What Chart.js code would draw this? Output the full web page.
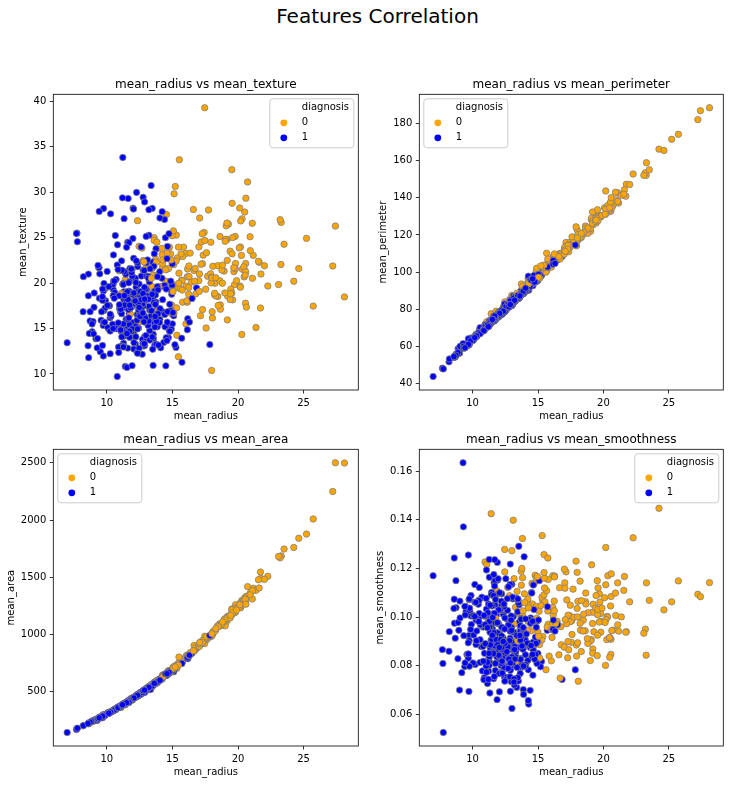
<!DOCTYPE html>
<html><head><meta charset="utf-8">
<script src="https://cdn.jsdelivr.net/npm/chart.js@4.4.0/dist/chart.umd.min.js"></script>
<style>
html,body{margin:0;padding:0;background:#fff;}
#fig{position:relative;width:730px;height:785px;overflow:hidden;background:#fff;}
#fig canvas{position:absolute;left:0;top:0;}
#suptitle{position:absolute;left:0;top:3.8px;width:755px;text-align:center;font:20px/24px "DejaVu Sans",sans-serif;color:#000;}
</style></head>
<body>
<div id="fig">
<div id="suptitle">Features Correlation</div>
<canvas id="c1" width="730" height="785"></canvas>
<canvas id="c2" width="730" height="785"></canvas>
<canvas id="c3" width="730" height="785"></canvas>
<canvas id="c4" width="730" height="785"></canvas>
</div>
<script>
const radius = [
17.99,20.57,19.69,11.42,20.29,12.45,18.25,13.71,13,12.46,
16.02,15.78,19.17,15.85,13.73,14.54,14.68,16.13,19.81,13.54,
13.08,9.504,15.34,21.16,16.65,17.14,14.58,18.61,15.3,17.57,
18.63,11.84,17.02,19.27,16.13,16.74,14.25,13.03,14.99,13.48,
13.44,10.95,19.07,13.28,13.17,18.65,8.196,13.17,12.05,13.49,
11.76,13.64,11.94,18.22,15.1,11.52,19.21,14.71,13.05,8.618,
10.17,8.598,14.25,9.173,12.68,14.78,9.465,11.31,9.029,12.78,
18.94,8.888,17.2,13.8,12.31,16.07,13.53,18.05,20.18,12.86,
11.45,13.34,25.22,19.1,12,18.46,14.48,19.02,12.36,14.64,
14.62,15.37,13.27,13.45,15.06,20.26,12.18,9.787,11.6,14.42,
13.61,6.981,12.18,9.876,10.49,13.11,11.64,12.36,22.27,11.34,
9.777,12.63,14.26,10.51,8.726,11.93,8.95,14.87,15.78,17.95,
11.41,18.66,24.25,14.5,13.37,13.85,13.61,19,15.1,19.79,
12.19,15.46,16.16,15.71,18.45,12.77,11.71,11.43,14.95,11.28,
9.738,16.11,11.43,12.9,10.75,11.9,11.8,14.95,14.44,13.74,
13,8.219,9.731,11.15,13.15,12.25,17.68,16.84,12.06,10.9,
11.75,19.19,19.59,12.34,23.27,14.97,10.8,16.78,17.47,14.97,
12.32,13.43,15.46,11.08,10.66,8.671,9.904,16.46,13.01,12.81,
27.22,21.09,15.7,11.41,15.28,10.08,18.31,11.71,11.81,12.3,
14.22,12.77,9.72,12.34,14.86,12.91,13.77,18.08,19.18,14.45,
12.23,17.54,23.29,13.81,12.47,15.12,9.876,17.01,13.11,15.27,
20.58,11.84,28.11,17.42,14.19,13.86,11.89,10.2,19.8,19.53,
13.65,13.56,10.18,15.75,13.27,14.34,10.44,15,12.62,12.83,
17.05,11.32,11.22,20.51,9.567,14.03,23.21,20.48,14.22,17.46,
13.64,12.42,11.3,13.75,19.4,10.48,13.2,12.89,10.65,11.52,
20.94,11.5,19.73,17.3,19.45,13.96,19.55,15.32,15.66,15.53,
20.31,17.35,17.29,15.61,17.19,20.73,10.6,13.59,12.87,10.71,
14.29,11.29,21.75,9.742,17.93,11.89,11.33,18.81,13.59,13.85,
19.16,11.74,19.4,16.24,12.89,12.58,11.94,12.89,11.26,11.37,
14.41,14.96,12.95,11.85,12.72,13.77,10.91,11.76,14.26,10.51,
19.53,12.46,20.09,10.49,11.46,11.6,13.2,9,13.5,13.05,
11.7,14.61,12.76,11.54,8.597,12.49,12.18,18.22,9.042,12.43,
10.25,20.16,12.86,20.34,12.2,12.67,14.11,12.03,16.27,16.26,
16.03,12.98,11.22,11.25,12.3,17.06,12.99,18.77,10.05,23.51,
14.42,9.606,11.06,19.68,11.71,10.26,12.06,14.76,11.47,11.95,
11.66,15.75,25.73,15.08,11.14,12.56,13.05,13.87,8.878,9.436,
12.54,13.3,12.76,16.5,13.4,20.44,20.2,12.21,21.71,22.01,
16.35,15.19,21.37,20.64,13.69,16.17,10.57,13.46,13.66,11.08,
11.27,11.04,12.05,12.39,13.28,14.6,12.21,13.88,11.27,19.55,
10.26,8.734,15.49,21.61,12.1,14.06,13.51,12.8,11.06,11.8,
17.91,11.93,12.96,12.94,12.34,10.94,16.14,12.85,17.99,12.27,
11.36,11.04,9.397,14.99,15.13,11.89,9.405,15.5,12.7,11.16,
11.57,14.69,11.61,13.66,9.742,10.03,10.48,10.8,11.13,12.72,
14.9,12.4,20.18,18.82,14.86,13.98,12.87,14.04,13.85,14.02,
10.97,17.27,13.78,10.57,18.03,11.99,17.75,14.8,14.53,21.1,
11.87,19.59,12,14.53,12.62,13.38,11.63,13.21,13,9.755,
17.08,27.42,14.4,11.6,13.17,13.24,13.14,9.668,17.6,11.62,
9.667,12.04,14.92,12.27,10.88,12.83,14.2,13.9,11.49,16.25,
12.16,13.9,13.47,13.7,15.73,12.45,14.64,19.44,11.68,16.69,
12.25,17.85,18.01,12.46,13.16,14.87,12.65,12.47,18.49,20.59,
15.04,13.82,12.54,23.09,9.268,9.676,12.22,11.06,16.3,15.46,
11.74,14.81,13.4,14.58,15.05,11.34,18.31,19.89,12.88,12.75,
9.295,24.63,11.26,13.71,9.847,8.571,13.46,12.34,13.94,12.07,
11.75,11.67,13.68,20.47,10.96,20.55,14.27,11.69,7.729,7.691,
11.54,14.47,14.74,13.21,13.87,13.62,10.32,10.26,9.683,10.82,
10.86,11.13,12.77,9.333,12.88,10.29,10.16,9.423,14.59,11.51,
14.05,11.2,15.22,20.92,21.56,20.13,16.6,20.6,7.76
];
const texture = [
10.38,17.77,21.25,20.38,14.34,15.7,19.98,20.83,21.82,24.04,
23.24,17.89,24.8,23.95,22.61,27.54,20.13,20.68,22.15,14.36,
15.71,12.44,14.26,23.04,21.38,16.4,21.53,20.25,25.27,15.05,
25.11,18.7,23.98,26.47,17.88,21.59,21.72,18.42,25.2,20.82,
21.58,21.35,24.81,20.28,21.81,17.6,16.84,18.66,14.63,22.3,
21.6,16.34,18.24,18.7,22.02,18.75,18.57,21.59,19.31,11.79,
14.88,20.98,22.15,13.86,23.84,23.94,21.01,19.04,17.33,16.49,
21.31,14.64,24.52,15.79,16.52,19.65,10.94,16.15,23.97,18,
20.97,15.86,24.91,26.29,15.65,18.52,21.46,24.59,21.8,15.24,
24.02,22.76,14.76,18.3,19.83,23.03,17.84,19.94,12.84,19.77,
24.98,13.43,20.52,19.4,19.29,15.56,18.33,18.54,19.67,21.26,
16.99,20.76,19.65,20.19,15.83,21.53,15.76,16.67,22.91,20.01,
10.82,17.12,20.2,10.89,16.39,17.21,24.69,18.91,16.39,25.12,
13.29,19.48,21.54,13.93,21.91,22.47,16.67,15.39,17.57,13.39,
11.97,18.05,17.31,15.92,14.97,14.65,16.58,18.77,15.18,17.91,
20.78,20.7,15.34,13.08,15.34,17.94,20.74,19.46,12.74,12.96,
20.18,15.94,18.15,22.22,22.04,19.76,9.71,18.8,24.68,16.95,
12.39,19.63,11.89,14.71,15.15,14.45,18.06,20.11,22.22,13.06,
21.87,26.57,20.31,14.92,22.41,15.11,18.58,17.19,17.39,15.9,
23.12,21.41,18.22,26.86,23.21,16.33,22.29,21.84,22.49,20.22,
19.56,19.32,26.67,23.75,18.6,16.68,17.27,20.26,22.54,12.91,
22.14,18.94,18.47,25.56,23.81,16.93,18.35,17.48,21.56,32.47,
13.16,13.9,17.53,20.25,17.02,13.47,15.46,15.51,23.97,22.33,
19.08,27.08,33.81,27.81,15.91,21.25,26.97,21.46,27.85,39.28,
15.6,15.04,18.19,23.77,23.5,19.86,17.43,14.11,25.22,14.93,
23.56,18.45,19.82,17.08,19.33,17.05,28.77,17.27,23.2,33.56,
27.06,23.06,22.13,19.38,22.07,31.12,18.95,21.84,16.21,20.39,
16.82,13.04,20.99,15.67,24.48,17.36,14.16,19.98,17.84,15.18,
26.6,14.02,18.18,18.77,15.7,18.4,20.76,13.12,19.96,18.89,
19.73,19.1,16.02,17.46,13.78,13.27,12.35,18.14,18.17,23.09,
18.9,19.89,23.86,18.61,18.16,24.49,15.82,14.4,12.71,13.84,
19.11,15.69,13.37,10.72,18.6,16.85,14.08,18.87,18.9,17,
16.18,19.66,13.32,21.51,15.21,17.3,12.88,17.93,20.71,21.88,
15.51,19.35,19.86,14.78,19.02,21,14.23,21.43,17.53,24.27,
16.54,16.84,14.96,21.68,15.45,14.71,18.9,14.74,16.03,14.96,
17.07,19.22,17.46,25.74,14.07,19.07,18.59,16.21,15.49,18.32,
18.07,21.57,18.84,18.29,16.95,21.78,26.83,18.02,17.25,21.9,
23.29,13.21,15.1,17.35,16.07,16.07,20.22,28.21,15.15,18.83,
12.96,14.93,22.72,17.48,13.72,23.29,14.09,16.16,15.5,23.21,
12.22,16.84,19.97,22.28,17.72,17.18,18.89,17.46,14.83,17.26,
21.02,10.91,18.29,16.17,14.95,18.59,14.86,21.37,20.66,17.92,
17.57,16.83,21.68,22.11,29.81,21.17,21.7,21.08,12.17,21.41,
19.04,13.98,16.02,19.13,19.12,21.28,14.98,21.98,16.62,17.67,
22.53,17.68,19.54,21.97,16.94,19.62,19.54,15.98,19.6,15.66,
17.2,25.42,15.79,18.32,16.85,24.89,28.03,17.66,19.34,20.52,
21.54,25,28.23,13.98,17.15,30.72,29.29,25.25,25.13,28.2,
27.15,26.27,26.99,18.36,18.22,20.13,20.74,18.1,23.33,18.18,
18.49,28.14,14.93,29.97,15.62,15.73,20.53,16.62,14.59,19.51,
18.03,19.24,14.06,17.64,11.28,16.41,16.85,18.82,16.17,20.2,
22.44,13.23,20.56,12.83,20.54,20.21,18.17,17.31,17.52,21.24,
16.74,24.49,16.32,19.83,12.87,13.14,20.04,17.12,15.7,23.95,
14.69,14.7,20.52,13.66,19.07,18.61,20.58,20.26,18.22,16.7,
13.9,21.6,19.83,18.68,15.68,13.1,18.75,12.27,13.17,13.44,
17.56,20.02,16.33,20.67,17.62,20.86,22.55,24.44,25.49,25.44,
14.44,24.99,25.42,28.06,20.7,23.23,16.35,16.58,19.34,24.21,
21.48,22.44,29.43,21.94,28.92,27.61,19.59,27.88,22.68,23.93,
27.15,29.37,30.62,25.09,22.39,28.25,28.08,29.33,24.54
];
const perimeter = [
122.8,132.9,130,77.58,135.1,82.57,119.6,90.2,87.5,83.97,
102.7,103.6,132.4,103.7,93.6,96.73,94.74,108.1,130,87.46,
85.63,60.34,102.5,137.2,110,116,97.41,122.1,102.4,115,
124.8,77.93,112.8,127.9,107,110.1,93.63,82.61,95.54,88.4,
86.18,71.9,128.3,87.32,85.42,123.7,51.71,85.98,78.04,86.91,
74.72,87.21,75.71,120.3,97.26,73.34,125.5,95.55,82.61,54.34,
64.55,54.66,96.42,59.2,82.69,97.4,60.11,71.8,58.79,81.37,
123.6,58.79,114.2,90.43,79.19,104.1,87.91,120.2,143.7,83.19,
73.81,86.49,171.5,129.1,76.95,121.1,94.25,122,79.78,95.77,
94.57,100.2,84.74,86.6,100.3,132.4,77.79,62.11,74.34,94.48,
88.05,43.79,77.22,63.95,67.41,87.21,75.17,79.01,152.8,72.48,
62.5,82.15,97.83,68.64,55.84,76.53,58.74,98.64,105.7,114.2,
73.34,121.4,166.2,94.28,86.1,88.44,87.76,123.4,99.58,130.4,
79.08,101.7,106.2,102,120.2,81.72,74.72,73.06,96.85,73,
61.24,105.1,73.66,83.74,68.26,78.11,78.99,97.84,93.97,88.12,
83.51,53.27,63.78,70.87,85.31,78.27,117.4,108.4,76.84,68.69,
76.1,126.3,130.7,79.85,152.1,95.5,68.77,109.3,116.1,96.22,
78.85,85.84,102.5,70.21,67.49,54.42,64.6,109.3,82.01,81.29,
182.1,142.7,101.2,73.53,98.92,63.76,118.6,74.68,75.27,78.83,
94.37,82.02,60.73,81.15,100.4,82.53,90.63,117.4,127.5,94.49,
78.54,115.1,158.9,91.56,81.09,98.78,62.92,109.7,87.02,98.17,
134.7,75.51,188.5,114.5,92.87,90.96,77.32,65.05,129.7,128,
87.88,88.59,65.12,102.6,84.55,92.51,66.62,97.45,81.35,85.26,
113.4,71.76,70.79,134.4,60.21,89.79,153.5,132.5,92.55,113.4,
87.38,78.61,73.93,88.54,129.1,66.72,84.13,84.95,68.01,73.87,
138.9,73.28,130.7,113,126.5,91.43,133.6,103.2,110.2,103.7,
132.9,111,114.4,100,111.6,135.7,69.28,87.16,82.38,69.5,
90.3,72.23,147.3,61.5,115.2,76.2,71.79,120.9,86.24,88.99,
126.2,74.24,127.2,108.8,84.08,79.83,77.87,81.89,73.72,72.17,
96.03,97.03,83.14,75.54,81.78,88.06,69.14,75,91.22,66.85,
129.5,80.43,134.7,66.86,73.59,74.23,84.07,56.36,85.69,82.71,
74.33,92.68,82.29,73.73,54.09,79.19,77.25,118.7,60.07,78.6,
66.52,131.1,82.82,135.9,78.01,81.25,90.03,76.09,106.9,107.5,
105.8,84.52,71.94,71.38,77.88,111.8,84.08,122.9,64.41,155.1,
94.15,61.64,71.49,129.9,75.03,66.2,76.66,94.87,73.02,77.23,
73.7,107.1,174.2,98,71.24,81.92,85.09,88.52,56.74,59.82,
79.42,85.24,81.87,106.6,85.48,133.8,133.7,78.31,140.9,147.2,
109,97.65,141.3,134.8,87.84,106.3,70.15,85.89,88.27,73.3,
73.16,70.67,78.75,80.64,85.79,93.97,78.78,88.37,73.38,128.9,
65.75,55.27,102.4,144.4,78.07,89.75,88.1,83.05,70.31,75.26,
124.4,76.14,84.18,83.18,78.29,70.39,104.3,82.63,117.8,78.41,
72.49,70.92,59.75,97.53,96.71,76.39,59.6,102.9,80.88,70.95,
74.2,98.22,75.46,89.46,61.93,63.19,67.49,68.79,70.47,80.98,
102.1,81.47,133.8,123.7,94.89,91.12,82.67,89.78,88.68,89.59,
71.73,112.4,88.37,66.82,117.5,77.61,117.3,95.88,94.25,138.1,
76.83,127.7,76.77,93.86,80.62,86.34,74.87,84.1,82.61,61.68,
111.2,186.9,92.25,73.88,84.28,86.87,85.98,61.06,119,76.38,
61.49,76.85,96.45,77.42,70.41,82.89,92.41,88.97,73.99,109.8,
78.29,88.73,87.32,87.76,102.8,82.85,94.21,128.1,75.49,107.1,
78.18,114.6,118.4,78.83,84.06,96.12,82.69,80.45,121.3,137.8,
98.73,92.33,81.25,152.1,61.49,64.12,79.47,71.25,104.7,103.8,
76.31,94.66,88.64,94.29,97.26,72.76,120.8,130.5,84.45,82.51,
59.96,165.5,71.3,88.73,63,54.53,87.44,78.94,90.31,77.83,
75.89,75.21,87.76,134.7,70.79,137.8,93.77,76.37,47.98,48.34,
74.65,95.81,94.7,84.88,89.77,87.19,65.31,65.85,61.05,68.89,
68.51,71.49,81.35,59.01,82.5,65.67,64.73,59.26,96.39,74.52,
91.38,70.67,103.4,143,142,131.2,108.3,140.1,47.92
];
const area = [
1001,1326,1203,386.1,1297,477.1,1040,577.9,519.8,475.9,
797.8,781,1123,782.7,578.3,658.8,684.5,798.8,1260,566.3,
520,273.9,704.4,1404,904.6,912.7,644.8,1094,732.4,955.1,
1088,440.6,899.3,1162,807.2,869.5,633,523.8,698.8,559.2,
563,371.1,1104,545.2,531.5,1076,201.9,534.6,449.3,561,
427.9,571.8,437.6,1033,712.8,409,1152,656.9,527.2,224.5,
311.9,221.8,645.7,260.9,499,668.3,269.4,394.1,250.5,502.5,
1130,244,929.4,584.1,470.9,817.7,559.2,1006,1245,506.3,
401.5,520,1878,1132,443.3,1075,648.2,1076,466.1,651.9,
662.7,728.2,551.7,555.1,705.6,1264,451.1,294.5,412.6,642.5,
582.7,143.5,458.7,298.3,336.1,530.2,412.5,466.7,1509,396.5,
290.2,480.4,629.9,334.2,230.9,438.6,245.2,682.5,782.6,982,
403.3,1077,1761,640.7,553.5,588.7,572.6,1138,674.5,1192,
455.8,748.9,809.8,761.7,1075,506.3,423.6,399.8,678.1,384.8,
288.5,813,398,512.2,355.3,432.8,432,689.5,640.1,585,
519.4,203.9,300.2,381.9,538.9,460.3,963.7,880.2,448.6,366.8,
419.8,1157,1214,464.5,1686,690.2,357.6,886.3,984.6,685.9,
464.1,565.4,736.9,372.7,349.6,227.2,302.4,832.9,526.4,508.8,
2250,1311,766.6,402,710.6,317.5,1041,420.3,428.9,463.7,
609.9,507.4,288.1,477.4,671.4,516.4,588.9,1024,1148,642.7,
461,951.6,1685,597.8,481.9,716.6,295.4,904.3,529.4,725.5,
1290,428,2499,948,610.7,578.9,432.2,321.2,1230,1223,
568.9,561.3,313.1,761.3,546.4,641.2,329.6,684.5,496.4,503.2,
895,395.7,386.8,1319,279.6,603.4,1670,1306,623.9,920.6,
575.3,476.5,389.4,590,1155,337.7,541.6,512.2,347,406.3,
1364,407.4,1206,928.2,1169,602.4,1207,713.3,773.5,744.9,
1288,933.1,947.8,758.6,928.3,1419,346.4,561,512.2,344.9,
632.6,388,1491,289.9,998.9,435.6,396.6,1102,572.3,587.4,
1138,427.3,1145,805.1,516.6,489,441,515.9,394.1,396,
651,687.3,513.7,432.7,492.1,582.7,363.7,431.1,633.1,334.2,
1217,471.3,1247,334.3,403.1,417.2,537.3,246.3,566.2,530.6,
418.7,664.9,504.1,409.1,221.2,481.6,461.4,1027,244.5,477.3,
324.2,1274,504.8,1264,457.9,489.9,616.5,446,813.7,826.8,
793.2,514,387.3,390,464.4,918.6,514.3,1092,310.8,1747,
641.2,280.5,373.9,1194,420.3,321.6,445.3,668.7,402.7,426.7,
421,758.6,2010,716.6,384.6,485.8,512,593.7,241,278.6,
491.9,546.1,496.6,838.1,552.4,1293,1234,458.4,1546,1482,
840.4,711.8,1386,1335,579.1,788.5,338.3,562.1,580.6,361.6,
386.3,372.7,447.8,462.9,541.8,664.7,462,596.6,392,1174,
321.6,234.3,744.7,1407,446.2,609.1,558.1,508.3,378.2,431.9,
994,442.7,525.2,507.6,469.1,370,800,514.5,991.7,466.1,
399.8,373.2,268.8,693.7,719.5,433.8,271.2,803.1,495,380.3,
409.7,656.1,408.2,575.3,289.7,307.3,333.6,359.9,381.1,501.3,
685,467.8,1250,1110,673.7,599.5,509.2,611.2,592.6,606.5,
371.5,928.8,585.9,340.9,990,441.3,981.6,674.8,659.7,1384,
432,1191,442.5,644.2,492.9,557.2,415.1,537.9,520.2,290.9,
930.9,2501,646.1,412.7,537.3,542.9,536.9,286.3,980.5,408.8,
289.1,449.9,686.9,465.4,358.9,506.9,618.4,599.4,404.9,815.8,
455.3,602.9,546.3,571.1,747.2,476.7,666,1167,420.5,857.6,
466.5,992.1,1007,477.3,538.7,680.9,485.6,480.1,1068,1320,
689.4,595.9,476.3,1682,248.7,272.5,453.1,366.5,819.8,731.3,
426,680.7,556.7,658.8,701.9,391.2,1052,1214,493.1,493.8,
257.8,1841,388.1,571,293.2,221.3,551.1,468.5,594.2,445.2,
422.9,416.2,575.5,1299,365.6,1308,629.8,406.4,178.8,170.4,
402.9,656.4,668.6,538.4,584.8,573.2,324.9,320.8,285.7,361.6,
360.5,378.4,507.9,264,514.3,321.4,311.7,271.3,657.1,403.5,
600.4,386,716.9,1347,1479,1261,858.1,1265,181
];
const smoothness = [
0.1184,0.08474,0.1096,0.1425,0.1003,0.1278,0.09463,0.1189,0.1273,0.1186,
0.08206,0.0971,0.0974,0.08401,0.1131,0.1139,0.09867,0.117,0.09831,0.09779,
0.1075,0.1024,0.1073,0.09428,0.1121,0.1186,0.1054,0.0944,0.1082,0.09847,
0.1064,0.1109,0.1197,0.09401,0.104,0.0961,0.09823,0.08983,0.09387,0.1016,
0.08162,0.1227,0.09081,0.1041,0.09714,0.1099,0.086,0.1158,0.1031,0.08752,
0.08637,0.07685,0.08261,0.1148,0.09056,0.09524,0.1053,0.1137,0.0806,0.09752,
0.1134,0.1243,0.1049,0.07721,0.1122,0.1172,0.1044,0.08139,0.1066,0.09831,
0.09009,0.09783,0.1071,0.1007,0.09172,0.09168,0.1291,0.1065,0.1286,0.09934,
0.1102,0.1078,0.1063,0.1215,0.09723,0.09874,0.09444,0.09029,0.08772,0.1132,
0.08974,0.092,0.07355,0.1022,0.1039,0.09078,0.1045,0.1024,0.08983,0.09752,
0.09488,0.117,0.08013,0.1005,0.09989,0.1398,0.1142,0.08477,0.1326,0.08759,
0.1037,0.09933,0.07837,0.1122,0.115,0.09768,0.09462,0.1162,0.1155,0.08402,
0.09373,0.1054,0.1447,0.1101,0.07115,0.08785,0.09258,0.08217,0.115,0.1015,
0.1066,0.1092,0.1008,0.09462,0.0943,0.09055,0.1051,0.09639,0.1167,0.1164,
0.0925,0.09721,0.1092,0.08677,0.07793,0.1152,0.1091,0.08138,0.0997,0.07944,
0.1135,0.09405,0.1072,0.09754,0.09384,0.08654,0.1115,0.07445,0.09311,0.07515,
0.1089,0.08694,0.112,0.1012,0.08439,0.08421,0.09594,0.08865,0.1049,0.09855,
0.1028,0.09048,0.1257,0.1006,0.08792,0.09138,0.09699,0.09831,0.06251,0.08739,
0.1094,0.1141,0.09597,0.09059,0.09057,0.09267,0.08588,0.09774,0.1007,0.0808,
0.1075,0.08749,0.0695,0.1034,0.1044,0.07941,0.12,0.07371,0.08523,0.09872,
0.09586,0.08968,0.1141,0.1323,0.09965,0.08876,0.1089,0.08772,0.1002,0.08182,
0.0909,0.08871,0.1142,0.1006,0.09463,0.1026,0.09363,0.08054,0.09383,0.0842,
0.09646,0.1051,0.1061,0.1025,0.08445,0.09906,0.1053,0.08371,0.07903,0.1088,
0.1141,0.06883,0.0778,0.09159,0.08464,0.0907,0.09509,0.08355,0.08223,0.09812,
0.09423,0.07926,0.09592,0.08043,0.1027,0.107,0.07215,0.0876,0.09657,0.1013,
0.1007,0.09345,0.1062,0.1008,0.1035,0.1096,0.0926,0.1335,0.1109,0.1063,
0.1,0.08662,0.08999,0.0784,0.09726,0.09469,0.09688,0.07956,0.09425,0.1082,
0.06429,0.09834,0.09401,0.09037,0.08855,0.1225,0.09379,0.08923,0.07948,0.09516,
0.102,0.07813,0.1037,0.1066,0.07818,0.08393,0.08605,0.06955,0.0802,0.08713,
0.08757,0.08992,0.1005,0.08372,0.09667,0.09198,0.08518,0.09968,0.06576,0.1015,
0.115,0.08451,0.108,0.1068,0.08853,0.07474,0.08511,0.07005,0.07376,0.08352,
0.08814,0.07618,0.08794,0.08597,0.1074,0.08511,0.07734,0.09746,0.09968,0.07557,
0.1061,0.0802,0.1134,0.117,0.08673,0.1028,0.09309,0.07683,0.1169,0.1165,
0.09491,0.09579,0.1054,0.08306,0.08313,0.1119,0.09462,0.09116,0.1007,0.1069,
0.09751,0.08481,0.1033,0.09797,0.115,0.09882,0.08386,0.08875,0.09076,0.1158,
0.07561,0.1243,0.1149,0.1024,0.07274,0.0876,0.1082,0.08743,0.08293,0.1009,
0.07436,0.08582,0.09676,0.09686,0.07937,0.0915,0.09905,0.09231,0.09384,0.1063,
0.09742,0.07963,0.1001,0.09446,0.08302,0.0988,0.09073,0.07517,0.08268,0.1216,
0.1237,0.07987,0.06935,0.1042,0.08363,0.08682,0.08108,0.07026,0.08365,0.101,
0.09996,0.1039,0.116,0.1167,0.1029,0.08045,0.1059,0.08044,0.07741,0.09087,
0.123,0.08872,0.07351,0.09879,0.08682,0.1004,0.09495,0.07551,0.1036,0.08772,
0.08858,0.1077,0.07969,0.08515,0.0832,0.09773,0.1044,0.112,0.08785,0.1018,
0.08546,0.1031,0.1088,0.09057,0.1075,0.08117,0.09816,0.08801,0.08151,0.07896,
0.09947,0.1054,0.1133,0.1018,0.08924,0.106,0.09136,0.08458,0.08684,0.07966,
0.08915,0.08331,0.08817,0.08142,0.08947,0.103,0.09997,0.09179,0.08388,0.09684,
0.06613,0.1032,0.08437,0.1099,0.08583,0.09245,0.09357,0.08791,0.08369,0.07984,
0.09898,0.1084,0.06995,0.08508,0.07466,0.08284,0.08675,0.08311,0.09289,0.1175,
0.08946,0.08752,0.08098,0.07699,0.1007,0.0904,0.08931,0.06828,0.1046,0.1026,
0.09087,0.07991,0.1071,0.0995,0.1043,0.09514,0.08641,0.1089,0.1128,0.07497,
0.08192,0.07838,0.1001,0.07372,0.07335,0.09587,0.1076,0.08928,0.1012,0.1085,
0.09883,0.1162,0.1158,0.09342,0.1634,0.1255,0.1096,0.1194,0.09427,0.1183,
0.08099,0.08472,0.1106,0.09832,0.09215,0.1049,0.1068,0.1037,0.1218,0.1125,
0.1371,0.103,0.08511,0.09916,0.09492,0.1036,0.1075,0.09003,0.1248,0.11,
0.1073,0.1016,0.09277,0.09156,0.09687,0.1046,0.1038,0.1236,0.08098,0.08668,
0.09984,0.08837,0.08275,0.08671,0.09578,0.09246,0.09434,0.08877,0.08491,0.08192,
0.07431,0.09566,0.08276,0.0924,0.08123,0.0903,0.1003,0.08123,0.08473,0.09261,
0.09929,0.07449,0.1048,0.1099,0.111,0.0978,0.08455,0.1178,0.05263
];
const diagnosis = [
0,0,0,0,0,0,0,0,0,0, 0,0,0,0,0,0,0,0,0,1, 1,1,0,0,0,0,0,0,0,0, 0,0,0,0,0,0,0,1,0,0,
0,0,0,0,0,0,1,0,1,1, 1,1,1,0,0,1,0,0,1,1, 1,1,0,1,0,0,1,1,1,1, 0,1,0,0,1,0,1,0,0,1,
1,1,0,0,1,0,0,0,1,1, 1,0,1,1,0,0,1,1,1,0, 0,1,1,1,1,0,1,1,0,1, 1,1,1,1,1,1,1,0,0,0,
1,0,0,1,1,1,0,0,1,0, 1,0,0,1,0,0,1,1,0,1, 1,0,1,1,1,1,0,1,1,1, 1,1,1,1,1,1,0,1,1,1,
1,0,0,1,0,1,1,0,0,1, 1,0,0,1,1,1,1,0,1,1, 0,0,0,1,0,1,0,1,1,1, 0,1,1,0,0,1,0,0,0,0,
1,0,0,0,1,0,1,0,1,1, 0,1,0,0,0,0,1,1,0,0, 1,1,1,0,1,1,1,1,1,0, 0,1,1,0,1,1,0,0,1,0,
1,1,1,1,0,1,1,1,1,1, 0,1,0,0,0,0,0,0,0,0, 0,0,0,0,0,0,1,1,1,1, 1,1,0,1,0,1,1,0,1,1,
0,1,0,0,1,1,1,1,1,1, 1,1,1,1,1,1,1,0,1,1, 0,1,0,1,1,1,1,1,1,1, 1,1,1,1,1,1,1,0,1,1,
1,0,1,0,1,1,1,1,0,0, 0,1,1,1,1,0,1,0,1,0, 1,1,1,0,1,1,1,1,1,1, 1,0,0,0,1,1,1,1,1,1,
1,1,1,1,1,0,0,1,0,0, 0,1,0,0,1,1,1,1,1,0, 1,1,1,1,1,0,1,1,1,0, 1,1,0,0,1,1,1,1,1,1,
0,1,1,1,1,1,1,1,0,1, 1,1,1,1,0,1,1,0,1,1, 1,1,1,1,1,1,1,1,1,1, 0,1,0,0,1,0,1,1,1,1,
1,0,1,1,0,1,0,1,1,0, 1,0,1,1,1,1,1,1,1,1, 0,0,1,1,1,1,1,1,0,1, 1,1,1,1,1,1,1,1,1,0,
1,1,1,1,1,1,1,0,1,0, 1,1,0,1,1,1,1,1,0,0, 1,0,1,0,1,1,1,1,1,0, 1,1,0,1,0,1,0,0,1,1,
1,0,1,1,1,1,1,1,1,1, 1,1,1,0,1,0,0,1,1,1, 1,1,1,1,1,1,1,1,1,1, 1,1,1,1,1,1,1,1,1,1,
1,1,0,0,0,0,0,0,1
];
const xTicks = [10, 15, 20, 25];
const textureTicks = [10, 15, 20, 25, 30, 35, 40];
const perimeterTicks = [40, 60, 80, 100, 120, 140, 160, 180];
const areaTicks = [500, 1000, 1500, 2000, 2500];
const smoothnessTicks = [0.06, 0.08, 0.10, 0.12, 0.14, 0.16];
const hueLabels = ['0', '1'];
const hueColors = ['orange', 'blue'];

const FONT = '"DejaVu Sans", sans-serif';
Chart.defaults.font.family = FONT;
Chart.defaults.color = '#000';

function padRange(arr) {
  const mn = Math.min(...arr), mx = Math.max(...arr), d = (mx - mn) * 0.05;
  return [mn - d, mx + d];
}

const framePlugin = {
  id: 'mplFrame',
  afterDatasetsDraw(chart) {
    const {ctx, chartArea: a} = chart;
    ctx.save();
    ctx.strokeStyle = '#000';
    ctx.lineWidth = 0.8;
    ctx.strokeRect(a.left, a.top, a.right - a.left, a.bottom - a.top);
    ctx.restore();
  }
};

function roundRectPath(ctx, x, y, w, h, r) {
  ctx.beginPath();
  ctx.moveTo(x + r, y);
  ctx.lineTo(x + w - r, y);
  ctx.arcTo(x + w, y, x + w, y + r, r);
  ctx.lineTo(x + w, y + h - r);
  ctx.arcTo(x + w, y + h, x + w - r, y + h, r);
  ctx.lineTo(x + r, y + h);
  ctx.arcTo(x, y + h, x, y + h - r, r);
  ctx.lineTo(x, y + r);
  ctx.arcTo(x, y, x + r, y, r);
  ctx.closePath();
}

const legendPlugin = {
  id: 'mplLegend',
  afterDraw(chart, args, opts) {
    const {ctx, chartArea: a} = chart;
    const w = 84, h = 49, inset = 4.5;
    const x = opts.loc === 'right' ? a.right - inset - w : a.left + inset;
    const y = a.top + inset;
    ctx.save();
    roundRectPath(ctx, x, y, w, h, 3);
    ctx.fillStyle = 'rgba(255,255,255,0.8)';
    ctx.fill();
    ctx.strokeStyle = '#cccccc';
    ctx.lineWidth = 1;
    ctx.stroke();
    ctx.font = '10px ' + FONT;
    ctx.textBaseline = 'middle';
    ctx.textAlign = 'left';
    ctx.fillStyle = '#000';
    ctx.fillText('diagnosis', x + 32, y + 9);
    hueLabels.forEach((lab, i) => {
      const yy = y + 24 + i * 15;
      ctx.beginPath();
      ctx.arc(x + 14, yy, 3.4, 0, Math.PI * 2);
      ctx.fillStyle = hueColors[i];
      ctx.fill();
      ctx.fillStyle = '#000';
      ctx.fillText(lab, x + 32, yy);
    });
    ctx.restore();
  }
};

const panels = [
  {id: 'c1', y: texture, name: 'mean_texture', ticks: textureTicks, fmt: v => String(v),
   rect: {L: 53.3, R: 358.3, T: 94.3, B: 390}, yTitleX: 23, legend: 'right'},
  {id: 'c2', y: perimeter, name: 'mean_perimeter', ticks: perimeterTicks, fmt: v => String(v),
   rect: {L: 419.3, R: 723.3, T: 94.3, B: 390}, yTitleX: 383.3, legend: 'left'},
  {id: 'c3', y: area, name: 'mean_area', ticks: areaTicks, fmt: v => String(v),
   rect: {L: 53.3, R: 358.3, T: 449.3, B: 746}, yTitleX: 11.7, legend: 'left'},
  {id: 'c4', y: smoothness, name: 'mean_smoothness', ticks: smoothnessTicks, fmt: v => v.toFixed(2),
   rect: {L: 419.3, R: 723.3, T: 449.3, B: 746}, yTitleX: 380, legend: 'right'}
];

const YW = 50, XH = 34;
const tickFont = {size: 10, family: FONT};
const gridOpts = {display: true, drawOnChartArea: false, drawTicks: true, tickLength: 3.5, tickColor: '#000', tickWidth: 0.8};

panels.forEach(p => {
  const r = p.rect;
  const n = Math.min(radius.length, p.y.length, diagnosis.length);
  const pts = [], cols = [];
  for (let i = 0; i < n; i++) {
    pts.push({x: radius[i], y: p.y[i]});
    cols.push(hueColors[diagnosis[i]]);
  }
  const [xmin, xmax] = padRange(radius.slice(0, n));
  const [ymin, ymax] = padRange(p.y.slice(0, n));
  const padLeft = r.L - YW;
  new Chart(document.getElementById(p.id), {
    type: 'scatter',
    data: {datasets: [{
      data: pts,
      pointBackgroundColor: cols,
      pointBorderColor: 'gray',
      pointBorderWidth: 0.8,
      pointRadius: 3.2,
      pointHoverRadius: 3.2
    }]},
    options: {
      responsive: false,
      animation: false,
      events: [],
      layout: {padding: {left: padLeft, right: 730 - r.R, top: 0, bottom: 785 - r.B - XH}},
      plugins: {
        legend: {display: false},
        tooltip: {enabled: false},
        title: {display: true, text: 'mean_radius vs ' + p.name, fullSize: false,
          font: {size: 12, weight: 'normal', family: FONT}, color: '#000',
          padding: {top: r.T - 9.3 - 7.2, bottom: 9.3 - 7.2}},
        mplLegend: {loc: p.legend}
      },
      scales: {
        x: {
          type: 'linear', position: 'bottom', min: xmin, max: xmax,
          afterBuildTicks: s => { s.ticks = xTicks.map(v => ({value: v})); },
          afterFit: s => { s.height = XH; },
          ticks: {font: tickFont, color: '#000', padding: 3.5, maxRotation: 0, autoSkip: false, callback: v => String(v)},
          grid: gridOpts,
          border: {display: false},
          title: {display: true, text: 'mean_radius', font: tickFont, color: '#000', padding: {top: 0, bottom: 2}}
        },
        y: {
          type: 'linear', position: 'left', min: ymin, max: ymax,
          afterBuildTicks: s => { s.ticks = p.ticks.map(v => ({value: v})); },
          afterFit: s => { s.width = YW; },
          ticks: {font: tickFont, color: '#000', padding: 3.5, autoSkip: false, callback: v => p.fmt(v)},
          grid: gridOpts,
          border: {display: false},
          title: {display: true, text: p.name, font: tickFont, color: '#000',
            padding: {top: Math.max(p.yTitleX - padLeft - 6, 0), bottom: 0}}
        }
      }
    },
    plugins: [framePlugin, legendPlugin]
  });
});
</script>
</body></html>
